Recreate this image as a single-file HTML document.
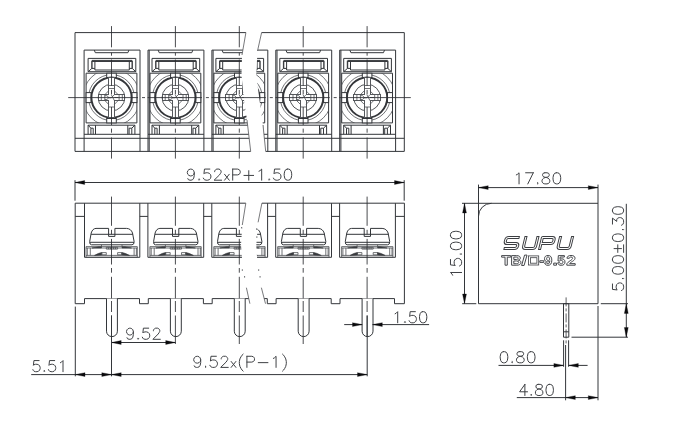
<!DOCTYPE html>
<html><head><meta charset="utf-8"><title>TB/□-9.52 drawing</title>
<style>
html,body{margin:0;padding:0;background:#fff;}
body{width:680px;height:440px;overflow:hidden;font-family:"Liberation Sans",sans-serif;}
svg{display:block}
svg path,svg circle,svg rect{fill:none;stroke:#33363a;stroke-width:1.0;stroke-linecap:butt;stroke-linejoin:miter}
svg .k{stroke-width:1.9;stroke:#34363a;fill:#fff}
svg .k2{stroke-width:1.4;stroke:#3a3c40}
svg .w{fill:#fff}
svg .wf{fill:#fff;stroke:none}
svg .t{stroke:#3e4044;stroke-width:1.0;stroke-linecap:round;stroke-linejoin:round}
svg .ar{fill:#0a0a0c;stroke:#0a0a0c;stroke-width:0.3}
svg .c{stroke-width:0.85;stroke:#2a2c30}
svg .l{stroke-width:0.8;stroke:#4c4f53}
svg .cr{shape-rendering:crispEdges;stroke:#55585c}
svg .m{stroke-width:0.85}
svg .dot{fill:#55585c;stroke:none}
svg .sp{fill:#3a3c40;stroke:#3a3c40;stroke-width:0.6}
svg .cl{stroke-dasharray:44 3 4 3;stroke-width:0.9}
svg .cv{stroke-dasharray:26 3 4 3;stroke-width:0.9}
svg .cv2{stroke-dasharray:26 3 4 3;stroke-width:0.9}
svg .cv3{stroke-dasharray:9 2 3 2;stroke-width:0.8}
svg .br{stroke-width:0.8;stroke:#55575b}
svg .lo{stroke:#3c3e42;stroke-width:3;stroke-linejoin:round;stroke-linecap:square}
svg .li{stroke:#fff;stroke-width:1;stroke-linejoin:round;stroke-linecap:square}
svg .tb{fill:#fff;stroke:#3c3e42;stroke-width:0.95;vector-effect:non-scaling-stroke;stroke-linejoin:round}
svg .tbr{stroke:#3c3e42;stroke-width:0.8}
</style></head><body>
<svg width="680" height="440" viewBox="0 0 680 440">
<defs><clipPath id="hc"><rect x="-25.4" y="73.2" width="50.8" height="49.7"/></clipPath></defs>
<title>TB/□-9.52 terminal block dimensional drawing</title>
<desc>Top view, front view and side view of a 9.52 mm pitch barrier terminal block. Dimensions: 9.52xP+1.50, 9.52, 5.51, 9.52x(P-1), 1.50, 17.80, 15.00, 5.00±0.30, 0.80, 4.80. Marking: SUPU TB/□-9.52</desc>
<rect class="wf" x="0" y="0" width="680" height="440"/>
<g id="top">
<path d="M75.00 32.60 L404.30 32.60 L404.30 151.40 L75.00 151.40 Z"/>
<path d="M75.00 138.30 L404.30 138.30"/>
<g transform="translate(111.50 0)">
<path d="M-27.40 151.40 L-27.40 50.10 L28.50 50.10 L28.50 151.40"/>
<path d="M-17.20 50.10 L-16.20 52.70 L16.40 52.70 L17.40 50.10"/>
<path d="M-23.40 58.40 L24.30 58.40 L24.30 71.70 L-23.40 71.70 Z"/>
<path class="k2" d="M-19.60 68.40 L-19.60 61.40 L20.70 61.40 L20.70 68.40"/>
<path d="M-19.60 60.40 L20.70 60.40"/>
<path d="M-16.60 61.40 L-16.60 70.00 L17.80 70.00 L17.80 61.40"/>
<path d="M-23.40 71.70 L-19.60 68.40"/>
<path d="M24.30 71.70 L20.70 68.40"/>
<path d="M-19.60 68.40 L-16.60 68.40"/>
<path d="M20.70 68.40 L17.80 68.40"/>
<path d="M-25.40 73.20 L25.40 73.20 L25.40 122.90 L-25.40 122.90 Z"/>
<g clip-path="url(#hc)">
<circle class="l" cx="0" cy="97.6" r="28.6"/>
<circle class="l" cx="0" cy="97.6" r="23.0"/>
</g>
<rect class="w" x="-25.4" y="92.6" width="5" height="10"/>
<rect class="w" x="20.4" y="92.6" width="5" height="10"/>
<rect class="w" x="-4.8" y="73.2" width="9.6" height="4.4"/>
<rect class="w" x="-4.8" y="118.5" width="9.6" height="4.4"/>
<circle class="k" cx="0" cy="97.6" r="20.1"/>
<circle class="m" cx="0" cy="97.6" r="13.3"/>
<path class="w cr" d="M-2.90 77.60 L2.90 77.60 L2.90 94.70 L13.40 94.70 L13.40 100.50 L2.90 100.50 L2.90 117.60 L-2.90 117.60 L-2.90 100.50 L-13.40 100.50 L-13.40 94.70 L-2.90 94.70 Z"/>
<path class="l" d="M6.70 100.50 L2.90 104.30"/>
<path class="l" d="M6.70 94.70 L2.90 90.90"/>
<path class="l" d="M-6.70 100.50 L-2.90 104.30"/>
<path class="l" d="M-6.70 94.70 L-2.90 90.90"/>
<path class="l" d="M-2.90 85.50 L2.90 85.50"/>
<path class="l" d="M-2.90 88.50 L2.90 88.50"/>
<path class="l" d="M-2.90 107.00 L2.90 107.00"/>
<path class="l" d="M-10.20 94.70 L-10.20 100.50"/>
<path class="l" d="M-6.70 94.70 L-6.70 100.50"/>
<path class="l" d="M7.60 94.70 L7.60 100.50"/>
<path class="l" d="M10.80 94.70 L10.80 100.50"/>
<path class="l" d="M-6.70 95.70 L-4.60 95.70 L-2.60 97.60 L-4.60 99.50 L-6.70 99.50"/>
<path class="l" d="M-2.90 97.80 L-0.20 97.80"/>
<path class="l" d="M-0.20 94.70 L3.00 100.80"/>
<path class="l" d="M-0.20 97.80 L2.90 94.70"/>
<path class="l" d="M6.90 97.50 L2.90 97.50"/>
<path d="M-23.40 134.30 L-23.40 125.20 L23.40 125.20 L23.40 134.30"/>
<path d="M-20.60 134.30 L-20.60 128.20"/>
<path d="M-18.30 134.30 L-18.30 128.20"/>
<path d="M20.30 134.30 L20.30 128.20"/>
<path d="M17.60 134.30 L17.60 128.20"/>
<path d="M-23.40 125.20 L-20.60 128.20"/>
<path d="M23.40 125.20 L20.30 128.20"/>
<path d="M-20.60 128.20 L-18.30 128.20"/>
<path d="M20.30 128.20 L17.60 128.20"/>
<path d="M-16.00 134.30 L-16.00 125.20"/>
<path d="M16.30 134.30 L16.30 125.20"/>
<path d="M-27.40 134.30 L28.50 134.30"/>
</g>
<g transform="translate(175.40 0)">
<path d="M-27.40 151.40 L-27.40 50.10 L28.50 50.10 L28.50 151.40"/>
<path d="M-26.20 50.10 L-26.20 151.40"/>
<path d="M-17.20 50.10 L-16.20 52.70 L16.40 52.70 L17.40 50.10"/>
<path d="M-23.40 58.40 L24.30 58.40 L24.30 71.70 L-23.40 71.70 Z"/>
<path class="k2" d="M-19.60 68.40 L-19.60 61.40 L20.70 61.40 L20.70 68.40"/>
<path d="M-19.60 60.40 L20.70 60.40"/>
<path d="M-16.60 61.40 L-16.60 70.00 L17.80 70.00 L17.80 61.40"/>
<path d="M-23.40 71.70 L-19.60 68.40"/>
<path d="M24.30 71.70 L20.70 68.40"/>
<path d="M-19.60 68.40 L-16.60 68.40"/>
<path d="M20.70 68.40 L17.80 68.40"/>
<path d="M-25.40 73.20 L25.40 73.20 L25.40 122.90 L-25.40 122.90 Z"/>
<g clip-path="url(#hc)">
<circle class="l" cx="0" cy="97.6" r="28.6"/>
<circle class="l" cx="0" cy="97.6" r="23.0"/>
</g>
<rect class="w" x="-25.4" y="92.6" width="5" height="10"/>
<rect class="w" x="20.4" y="92.6" width="5" height="10"/>
<rect class="w" x="-4.8" y="73.2" width="9.6" height="4.4"/>
<rect class="w" x="-4.8" y="118.5" width="9.6" height="4.4"/>
<circle class="k" cx="0" cy="97.6" r="20.1"/>
<circle class="m" cx="0" cy="97.6" r="13.3"/>
<path class="w cr" d="M-2.90 77.60 L2.90 77.60 L2.90 94.70 L13.40 94.70 L13.40 100.50 L2.90 100.50 L2.90 117.60 L-2.90 117.60 L-2.90 100.50 L-13.40 100.50 L-13.40 94.70 L-2.90 94.70 Z"/>
<path class="l" d="M6.70 100.50 L2.90 104.30"/>
<path class="l" d="M6.70 94.70 L2.90 90.90"/>
<path class="l" d="M-6.70 100.50 L-2.90 104.30"/>
<path class="l" d="M-6.70 94.70 L-2.90 90.90"/>
<path class="l" d="M-2.90 85.50 L2.90 85.50"/>
<path class="l" d="M-2.90 88.50 L2.90 88.50"/>
<path class="l" d="M-2.90 107.00 L2.90 107.00"/>
<path class="l" d="M-10.20 94.70 L-10.20 100.50"/>
<path class="l" d="M-6.70 94.70 L-6.70 100.50"/>
<path class="l" d="M7.60 94.70 L7.60 100.50"/>
<path class="l" d="M10.80 94.70 L10.80 100.50"/>
<path class="l" d="M-6.70 95.70 L-4.60 95.70 L-2.60 97.60 L-4.60 99.50 L-6.70 99.50"/>
<path class="l" d="M-2.90 97.80 L-0.20 97.80"/>
<path class="l" d="M-0.20 94.70 L3.00 100.80"/>
<path class="l" d="M-0.20 97.80 L2.90 94.70"/>
<path class="l" d="M6.90 97.50 L2.90 97.50"/>
<path d="M-23.40 134.30 L-23.40 125.20 L23.40 125.20 L23.40 134.30"/>
<path d="M-20.60 134.30 L-20.60 128.20"/>
<path d="M-18.30 134.30 L-18.30 128.20"/>
<path d="M20.30 134.30 L20.30 128.20"/>
<path d="M17.60 134.30 L17.60 128.20"/>
<path d="M-23.40 125.20 L-20.60 128.20"/>
<path d="M23.40 125.20 L20.30 128.20"/>
<path d="M-20.60 128.20 L-18.30 128.20"/>
<path d="M20.30 128.20 L17.60 128.20"/>
<path d="M-16.00 134.30 L-16.00 125.20"/>
<path d="M16.30 134.30 L16.30 125.20"/>
<path d="M-27.40 134.30 L28.50 134.30"/>
</g>
<g transform="translate(239.30 0)">
<path d="M-27.40 151.40 L-27.40 50.10 L28.50 50.10 L28.50 151.40"/>
<path d="M-26.20 50.10 L-26.20 151.40"/>
<path d="M-17.20 50.10 L-16.20 52.70 L16.40 52.70 L17.40 50.10"/>
<path d="M-23.40 58.40 L24.30 58.40 L24.30 71.70 L-23.40 71.70 Z"/>
<path class="k2" d="M-19.60 68.40 L-19.60 61.40 L20.70 61.40 L20.70 68.40"/>
<path d="M-19.60 60.40 L20.70 60.40"/>
<path d="M-16.60 61.40 L-16.60 70.00 L17.80 70.00 L17.80 61.40"/>
<path d="M-23.40 71.70 L-19.60 68.40"/>
<path d="M24.30 71.70 L20.70 68.40"/>
<path d="M-19.60 68.40 L-16.60 68.40"/>
<path d="M20.70 68.40 L17.80 68.40"/>
<path d="M-25.40 73.20 L25.40 73.20 L25.40 122.90 L-25.40 122.90 Z"/>
<g clip-path="url(#hc)">
<circle class="l" cx="0" cy="97.6" r="28.6"/>
<circle class="l" cx="0" cy="97.6" r="23.0"/>
</g>
<rect class="w" x="-25.4" y="92.6" width="5" height="10"/>
<rect class="w" x="20.4" y="92.6" width="5" height="10"/>
<rect class="w" x="-4.8" y="73.2" width="9.6" height="4.4"/>
<rect class="w" x="-4.8" y="118.5" width="9.6" height="4.4"/>
<circle class="k" cx="0" cy="97.6" r="20.1"/>
<circle class="m" cx="0" cy="97.6" r="13.3"/>
<path class="w cr" d="M-2.90 77.60 L2.90 77.60 L2.90 94.70 L13.40 94.70 L13.40 100.50 L2.90 100.50 L2.90 117.60 L-2.90 117.60 L-2.90 100.50 L-13.40 100.50 L-13.40 94.70 L-2.90 94.70 Z"/>
<path class="l" d="M6.70 100.50 L2.90 104.30"/>
<path class="l" d="M6.70 94.70 L2.90 90.90"/>
<path class="l" d="M-6.70 100.50 L-2.90 104.30"/>
<path class="l" d="M-6.70 94.70 L-2.90 90.90"/>
<path class="l" d="M-2.90 85.50 L2.90 85.50"/>
<path class="l" d="M-2.90 88.50 L2.90 88.50"/>
<path class="l" d="M-2.90 107.00 L2.90 107.00"/>
<path class="l" d="M-10.20 94.70 L-10.20 100.50"/>
<path class="l" d="M-6.70 94.70 L-6.70 100.50"/>
<path class="l" d="M7.60 94.70 L7.60 100.50"/>
<path class="l" d="M10.80 94.70 L10.80 100.50"/>
<path class="l" d="M-6.70 95.70 L-4.60 95.70 L-2.60 97.60 L-4.60 99.50 L-6.70 99.50"/>
<path class="l" d="M-2.90 97.80 L-0.20 97.80"/>
<path class="l" d="M-0.20 94.70 L3.00 100.80"/>
<path class="l" d="M-0.20 97.80 L2.90 94.70"/>
<path class="l" d="M6.90 97.50 L2.90 97.50"/>
<path d="M-23.40 134.30 L-23.40 125.20 L23.40 125.20 L23.40 134.30"/>
<path d="M-20.60 134.30 L-20.60 128.20"/>
<path d="M-18.30 134.30 L-18.30 128.20"/>
<path d="M20.30 134.30 L20.30 128.20"/>
<path d="M17.60 134.30 L17.60 128.20"/>
<path d="M-23.40 125.20 L-20.60 128.20"/>
<path d="M23.40 125.20 L20.30 128.20"/>
<path d="M-20.60 128.20 L-18.30 128.20"/>
<path d="M20.30 128.20 L17.60 128.20"/>
<path d="M-16.00 134.30 L-16.00 125.20"/>
<path d="M16.30 134.30 L16.30 125.20"/>
<path d="M-27.40 134.30 L28.50 134.30"/>
</g>
<g transform="translate(303.20 0)">
<path d="M-27.40 151.40 L-27.40 50.10 L28.50 50.10 L28.50 151.40"/>
<path d="M-26.20 50.10 L-26.20 151.40"/>
<path d="M-17.20 50.10 L-16.20 52.70 L16.40 52.70 L17.40 50.10"/>
<path d="M-23.40 58.40 L24.30 58.40 L24.30 71.70 L-23.40 71.70 Z"/>
<path class="k2" d="M-19.60 68.40 L-19.60 61.40 L20.70 61.40 L20.70 68.40"/>
<path d="M-19.60 60.40 L20.70 60.40"/>
<path d="M-16.60 61.40 L-16.60 70.00 L17.80 70.00 L17.80 61.40"/>
<path d="M-23.40 71.70 L-19.60 68.40"/>
<path d="M24.30 71.70 L20.70 68.40"/>
<path d="M-19.60 68.40 L-16.60 68.40"/>
<path d="M20.70 68.40 L17.80 68.40"/>
<path d="M-25.40 73.20 L25.40 73.20 L25.40 122.90 L-25.40 122.90 Z"/>
<g clip-path="url(#hc)">
<circle class="l" cx="0" cy="97.6" r="28.6"/>
<circle class="l" cx="0" cy="97.6" r="23.0"/>
</g>
<rect class="w" x="-25.4" y="92.6" width="5" height="10"/>
<rect class="w" x="20.4" y="92.6" width="5" height="10"/>
<rect class="w" x="-4.8" y="73.2" width="9.6" height="4.4"/>
<rect class="w" x="-4.8" y="118.5" width="9.6" height="4.4"/>
<circle class="k" cx="0" cy="97.6" r="20.1"/>
<circle class="m" cx="0" cy="97.6" r="13.3"/>
<path class="w cr" d="M-2.90 77.60 L2.90 77.60 L2.90 94.70 L13.40 94.70 L13.40 100.50 L2.90 100.50 L2.90 117.60 L-2.90 117.60 L-2.90 100.50 L-13.40 100.50 L-13.40 94.70 L-2.90 94.70 Z"/>
<path class="l" d="M6.70 100.50 L2.90 104.30"/>
<path class="l" d="M6.70 94.70 L2.90 90.90"/>
<path class="l" d="M-6.70 100.50 L-2.90 104.30"/>
<path class="l" d="M-6.70 94.70 L-2.90 90.90"/>
<path class="l" d="M-2.90 85.50 L2.90 85.50"/>
<path class="l" d="M-2.90 88.50 L2.90 88.50"/>
<path class="l" d="M-2.90 107.00 L2.90 107.00"/>
<path class="l" d="M-10.20 94.70 L-10.20 100.50"/>
<path class="l" d="M-6.70 94.70 L-6.70 100.50"/>
<path class="l" d="M7.60 94.70 L7.60 100.50"/>
<path class="l" d="M10.80 94.70 L10.80 100.50"/>
<path class="l" d="M-6.70 95.70 L-4.60 95.70 L-2.60 97.60 L-4.60 99.50 L-6.70 99.50"/>
<path class="l" d="M-2.90 97.80 L-0.20 97.80"/>
<path class="l" d="M-0.20 94.70 L3.00 100.80"/>
<path class="l" d="M-0.20 97.80 L2.90 94.70"/>
<path class="l" d="M6.90 97.50 L2.90 97.50"/>
<path d="M-23.40 134.30 L-23.40 125.20 L23.40 125.20 L23.40 134.30"/>
<path d="M-20.60 134.30 L-20.60 128.20"/>
<path d="M-18.30 134.30 L-18.30 128.20"/>
<path d="M20.30 134.30 L20.30 128.20"/>
<path d="M17.60 134.30 L17.60 128.20"/>
<path d="M-23.40 125.20 L-20.60 128.20"/>
<path d="M23.40 125.20 L20.30 128.20"/>
<path d="M-20.60 128.20 L-18.30 128.20"/>
<path d="M20.30 128.20 L17.60 128.20"/>
<path d="M-16.00 134.30 L-16.00 125.20"/>
<path d="M16.30 134.30 L16.30 125.20"/>
<path d="M-27.40 134.30 L28.50 134.30"/>
</g>
<g transform="translate(367.10 0)">
<path d="M-27.40 151.40 L-27.40 50.10 L28.50 50.10 L28.50 151.40"/>
<path d="M-26.20 50.10 L-26.20 151.40"/>
<path d="M-17.20 50.10 L-16.20 52.70 L16.40 52.70 L17.40 50.10"/>
<path d="M-23.40 58.40 L24.30 58.40 L24.30 71.70 L-23.40 71.70 Z"/>
<path class="k2" d="M-19.60 68.40 L-19.60 61.40 L20.70 61.40 L20.70 68.40"/>
<path d="M-19.60 60.40 L20.70 60.40"/>
<path d="M-16.60 61.40 L-16.60 70.00 L17.80 70.00 L17.80 61.40"/>
<path d="M-23.40 71.70 L-19.60 68.40"/>
<path d="M24.30 71.70 L20.70 68.40"/>
<path d="M-19.60 68.40 L-16.60 68.40"/>
<path d="M20.70 68.40 L17.80 68.40"/>
<path d="M-25.40 73.20 L25.40 73.20 L25.40 122.90 L-25.40 122.90 Z"/>
<g clip-path="url(#hc)">
<circle class="l" cx="0" cy="97.6" r="28.6"/>
<circle class="l" cx="0" cy="97.6" r="23.0"/>
</g>
<rect class="w" x="-25.4" y="92.6" width="5" height="10"/>
<rect class="w" x="20.4" y="92.6" width="5" height="10"/>
<rect class="w" x="-4.8" y="73.2" width="9.6" height="4.4"/>
<rect class="w" x="-4.8" y="118.5" width="9.6" height="4.4"/>
<circle class="k" cx="0" cy="97.6" r="20.1"/>
<circle class="m" cx="0" cy="97.6" r="13.3"/>
<path class="w cr" d="M-2.90 77.60 L2.90 77.60 L2.90 94.70 L13.40 94.70 L13.40 100.50 L2.90 100.50 L2.90 117.60 L-2.90 117.60 L-2.90 100.50 L-13.40 100.50 L-13.40 94.70 L-2.90 94.70 Z"/>
<path class="l" d="M6.70 100.50 L2.90 104.30"/>
<path class="l" d="M6.70 94.70 L2.90 90.90"/>
<path class="l" d="M-6.70 100.50 L-2.90 104.30"/>
<path class="l" d="M-6.70 94.70 L-2.90 90.90"/>
<path class="l" d="M-2.90 85.50 L2.90 85.50"/>
<path class="l" d="M-2.90 88.50 L2.90 88.50"/>
<path class="l" d="M-2.90 107.00 L2.90 107.00"/>
<path class="l" d="M-10.20 94.70 L-10.20 100.50"/>
<path class="l" d="M-6.70 94.70 L-6.70 100.50"/>
<path class="l" d="M7.60 94.70 L7.60 100.50"/>
<path class="l" d="M10.80 94.70 L10.80 100.50"/>
<path class="l" d="M-6.70 95.70 L-4.60 95.70 L-2.60 97.60 L-4.60 99.50 L-6.70 99.50"/>
<path class="l" d="M-2.90 97.80 L-0.20 97.80"/>
<path class="l" d="M-0.20 94.70 L3.00 100.80"/>
<path class="l" d="M-0.20 97.80 L2.90 94.70"/>
<path class="l" d="M6.90 97.50 L2.90 97.50"/>
<path d="M-23.40 134.30 L-23.40 125.20 L23.40 125.20 L23.40 134.30"/>
<path d="M-20.60 134.30 L-20.60 128.20"/>
<path d="M-18.30 134.30 L-18.30 128.20"/>
<path d="M20.30 134.30 L20.30 128.20"/>
<path d="M17.60 134.30 L17.60 128.20"/>
<path d="M-23.40 125.20 L-20.60 128.20"/>
<path d="M23.40 125.20 L20.30 128.20"/>
<path d="M-20.60 128.20 L-18.30 128.20"/>
<path d="M20.30 128.20 L17.60 128.20"/>
<path d="M-16.00 134.30 L-16.00 125.20"/>
<path d="M16.30 134.30 L16.30 125.20"/>
<path d="M-27.40 134.30 L28.50 134.30"/>
</g>
<path class="wf" d="M245.90 25.00 L245.90 32.60 L242.00 55.00 L241.50 75.00 L244.00 100.00 L247.00 120.00 L250.70 151.40 L250.70 158.00 L265.70 158.00 L265.70 151.40 L263.00 125.00 L259.50 100.00 L256.20 75.00 L257.50 51.00 L261.60 32.60 L261.60 25.00 Z"/>
<path class="br" d="M245.90 32.60 L242.00 55.00"/>
<path class="br" d="M261.60 32.60 L257.50 51.00"/>
<path class="br" d="M247.00 120.00 L250.70 151.40"/>
<path class="br" d="M263.00 125.00 L265.70 151.40"/>
<path class="c" d="M68.20 97.60 H138.00 M142.00 97.60 H145.00 M147.60 97.60 H201.90 M205.90 97.60 H208.90 M211.50 97.60 H265.80 M269.80 97.60 H272.80 M275.40 97.60 H329.70 M333.70 97.60 H336.70 M339.30 97.60 H410.80"/>
<path class="c" d="M111.50 26.10 V47.30 M111.50 52.70 V55.70 M111.50 59.50 V85.90 M111.50 89.90 V94.40 M111.50 107.00 V125.00 M111.50 128.60 V132.70 M111.50 137.50 V158.60"/>
<path class="c" d="M175.40 26.10 V47.30 M175.40 52.70 V55.70 M175.40 59.50 V85.90 M175.40 89.90 V94.40 M175.40 107.00 V125.00 M175.40 128.60 V132.70 M175.40 137.50 V158.60"/>
<path class="c" d="M239.30 26.10 V47.30 M239.30 52.70 V55.70 M239.30 59.50 V85.90 M239.30 89.90 V94.40 M239.30 107.00 V125.00 M239.30 128.60 V132.70 M239.30 137.50 V158.60"/>
<path class="c" d="M303.20 26.10 V47.30 M303.20 52.70 V55.70 M303.20 59.50 V85.90 M303.20 89.90 V94.40 M303.20 107.00 V125.00 M303.20 128.60 V132.70 M303.20 137.50 V158.60"/>
<path class="c" d="M367.10 26.10 V47.30 M367.10 52.70 V55.70 M367.10 59.50 V85.90 M367.10 89.90 V94.40 M367.10 107.00 V125.00 M367.10 128.60 V132.70 M367.10 137.50 V158.60"/>
</g>
<g id="front">
<path d="M75.20 203.20 L75.20 303.70 L84.50 303.70 L84.50 298.60 L139.50 298.60 L139.50 303.70 L148.30 303.70 L148.30 298.60 L203.40 298.60 L203.40 303.70 L212.20 303.70 L212.20 298.60 L267.30 298.60 L267.30 303.70 L276.10 303.70 L276.10 298.60 L331.20 298.60 L331.20 303.70 L340.00 303.70 L340.00 298.60 L394.50 298.60 L394.50 303.70 L404.40 303.70 L404.40 203.20 Z"/>
<g transform="translate(111.50 0)">
<path d="M-27.00 203.20 L-27.00 257.30 L28.30 257.30 L28.30 203.20"/>
<path d="M-36.30 216.40 L-27.00 216.40"/>
<path d="M28.30 216.40 L36.40 216.40"/>
<path class="w" d="M-15.5 228.4 L-2.9 228.4 L-2.9 236.4 L3.4 236.4 L3.4 228.4 L15 228.4 Q19.5 228.6 21 233 L22.6 241.5 Q22.8 244.8 20.5 244.8 L-20 244.8 Q-22 244.8 -21.8 241.5 L-20.3 233 Q-19 228.6 -15.5 228.4 Z"/>
<path d="M-20.40 234.30 L21.40 234.30"/>
<path d="M-21.70 242.30 L22.60 242.30"/>
<path class="l" d="M-25.50 246.60 L25.80 246.60 L25.80 257.30 L-25.50 257.30 Z"/>
<path class="l" d="M-25.50 248.00 L25.80 248.00"/>
<path class="l" d="M-25.50 255.40 L25.80 255.40"/>
<path class="l" d="M-24.20 248.00 L-24.20 255.40"/>
<path class="l" d="M-21.20 248.00 L-21.20 255.40"/>
<path class="l" d="M22.60 248.00 L22.60 255.40"/>
<path class="l" d="M24.90 248.00 L24.90 255.40"/>
<path class="l" d="M-5.20 247.30 L6.10 247.30 L6.10 249.10 L-5.20 249.10 Z"/>
<path class="l" d="M-3.00 247.30 L-3.00 249.10"/>
<path class="l" d="M-1.00 247.30 L-1.00 249.10"/>
<path class="l" d="M2.00 247.30 L2.00 249.10"/>
<path class="l" d="M4.00 247.30 L4.00 249.10"/>
<path class="l" d="M-10.00 244.80 L-10.00 246.60"/>
<path class="l" d="M10.50 244.80 L10.50 246.60"/>
<path class="sp" d="M-19.5 248 L-13 246.8 L-10 246.8 L-10 248 Z"/>
<path class="sp" d="M20 248 L13.5 246.8 L10.5 246.8 L10.5 248 Z"/>
<path class="sp" d="M-17 255.4 Q-12 252.6 -9.8 252.6 L-9.8 254.9 Z"/>
<path class="l" d="M-9.8 252.6 L-5.2 252.6 L-5.2 254.8 L-9.8 254.8 Z"/>
<path class="sp" d="M18 255.4 Q12.6 252.6 10.4 252.6 L10.4 254.9 Z"/>
<path class="l" d="M10.4 252.6 L6.1 252.6 L6.1 254.8 L10.4 254.8 Z"/>
<path class="l" d="M-9.80 252.60 L-9.80 254.80"/>
<path class="l" d="M10.40 252.60 L10.40 254.80"/>
<path class="w" d="M-5 298.6 L-5 331.2 A5.45 5.4 0 0 0 5.9 331.2 L5.9 298.6"/>
</g>
<g transform="translate(175.40 0)">
<path d="M-27.50 203.20 L-27.50 257.30 L28.30 257.30 L28.30 203.20"/>
<path d="M28.30 216.40 L36.40 216.40"/>
<path class="w" d="M-15.5 228.4 L-2.9 228.4 L-2.9 236.4 L3.4 236.4 L3.4 228.4 L15 228.4 Q19.5 228.6 21 233 L22.6 241.5 Q22.8 244.8 20.5 244.8 L-20 244.8 Q-22 244.8 -21.8 241.5 L-20.3 233 Q-19 228.6 -15.5 228.4 Z"/>
<path d="M-20.40 234.30 L21.40 234.30"/>
<path d="M-21.70 242.30 L22.60 242.30"/>
<path class="l" d="M-25.50 246.60 L25.80 246.60 L25.80 257.30 L-25.50 257.30 Z"/>
<path class="l" d="M-25.50 248.00 L25.80 248.00"/>
<path class="l" d="M-25.50 255.40 L25.80 255.40"/>
<path class="l" d="M-24.20 248.00 L-24.20 255.40"/>
<path class="l" d="M-21.20 248.00 L-21.20 255.40"/>
<path class="l" d="M22.60 248.00 L22.60 255.40"/>
<path class="l" d="M24.90 248.00 L24.90 255.40"/>
<path class="l" d="M-5.20 247.30 L6.10 247.30 L6.10 249.10 L-5.20 249.10 Z"/>
<path class="l" d="M-3.00 247.30 L-3.00 249.10"/>
<path class="l" d="M-1.00 247.30 L-1.00 249.10"/>
<path class="l" d="M2.00 247.30 L2.00 249.10"/>
<path class="l" d="M4.00 247.30 L4.00 249.10"/>
<path class="l" d="M-10.00 244.80 L-10.00 246.60"/>
<path class="l" d="M10.50 244.80 L10.50 246.60"/>
<path class="sp" d="M-19.5 248 L-13 246.8 L-10 246.8 L-10 248 Z"/>
<path class="sp" d="M20 248 L13.5 246.8 L10.5 246.8 L10.5 248 Z"/>
<path class="sp" d="M-17 255.4 Q-12 252.6 -9.8 252.6 L-9.8 254.9 Z"/>
<path class="l" d="M-9.8 252.6 L-5.2 252.6 L-5.2 254.8 L-9.8 254.8 Z"/>
<path class="sp" d="M18 255.4 Q12.6 252.6 10.4 252.6 L10.4 254.9 Z"/>
<path class="l" d="M10.4 252.6 L6.1 252.6 L6.1 254.8 L10.4 254.8 Z"/>
<path class="l" d="M-9.80 252.60 L-9.80 254.80"/>
<path class="l" d="M10.40 252.60 L10.40 254.80"/>
<path class="w" d="M-5 298.6 L-5 331.2 A5.45 5.4 0 0 0 5.9 331.2 L5.9 298.6"/>
</g>
<g transform="translate(239.30 0)">
<path d="M-27.50 203.20 L-27.50 257.30 L28.30 257.30 L28.30 203.20"/>
<path d="M28.30 216.40 L36.40 216.40"/>
<path class="w" d="M-15.5 228.4 L-2.9 228.4 L-2.9 236.4 L3.4 236.4 L3.4 228.4 L15 228.4 Q19.5 228.6 21 233 L22.6 241.5 Q22.8 244.8 20.5 244.8 L-20 244.8 Q-22 244.8 -21.8 241.5 L-20.3 233 Q-19 228.6 -15.5 228.4 Z"/>
<path d="M-20.40 234.30 L21.40 234.30"/>
<path d="M-21.70 242.30 L22.60 242.30"/>
<path class="l" d="M-25.50 246.60 L25.80 246.60 L25.80 257.30 L-25.50 257.30 Z"/>
<path class="l" d="M-25.50 248.00 L25.80 248.00"/>
<path class="l" d="M-25.50 255.40 L25.80 255.40"/>
<path class="l" d="M-24.20 248.00 L-24.20 255.40"/>
<path class="l" d="M-21.20 248.00 L-21.20 255.40"/>
<path class="l" d="M22.60 248.00 L22.60 255.40"/>
<path class="l" d="M24.90 248.00 L24.90 255.40"/>
<path class="l" d="M-5.20 247.30 L6.10 247.30 L6.10 249.10 L-5.20 249.10 Z"/>
<path class="l" d="M-3.00 247.30 L-3.00 249.10"/>
<path class="l" d="M-1.00 247.30 L-1.00 249.10"/>
<path class="l" d="M2.00 247.30 L2.00 249.10"/>
<path class="l" d="M4.00 247.30 L4.00 249.10"/>
<path class="l" d="M-10.00 244.80 L-10.00 246.60"/>
<path class="l" d="M10.50 244.80 L10.50 246.60"/>
<path class="sp" d="M-19.5 248 L-13 246.8 L-10 246.8 L-10 248 Z"/>
<path class="sp" d="M20 248 L13.5 246.8 L10.5 246.8 L10.5 248 Z"/>
<path class="sp" d="M-17 255.4 Q-12 252.6 -9.8 252.6 L-9.8 254.9 Z"/>
<path class="l" d="M-9.8 252.6 L-5.2 252.6 L-5.2 254.8 L-9.8 254.8 Z"/>
<path class="sp" d="M18 255.4 Q12.6 252.6 10.4 252.6 L10.4 254.9 Z"/>
<path class="l" d="M10.4 252.6 L6.1 252.6 L6.1 254.8 L10.4 254.8 Z"/>
<path class="l" d="M-9.80 252.60 L-9.80 254.80"/>
<path class="l" d="M10.40 252.60 L10.40 254.80"/>
<path class="w" d="M-5 298.6 L-5 331.2 A5.45 5.4 0 0 0 5.9 331.2 L5.9 298.6"/>
</g>
<g transform="translate(303.20 0)">
<path d="M-27.50 203.20 L-27.50 257.30 L28.30 257.30 L28.30 203.20"/>
<path d="M28.30 216.40 L36.40 216.40"/>
<path class="w" d="M-15.5 228.4 L-2.9 228.4 L-2.9 236.4 L3.4 236.4 L3.4 228.4 L15 228.4 Q19.5 228.6 21 233 L22.6 241.5 Q22.8 244.8 20.5 244.8 L-20 244.8 Q-22 244.8 -21.8 241.5 L-20.3 233 Q-19 228.6 -15.5 228.4 Z"/>
<path d="M-20.40 234.30 L21.40 234.30"/>
<path d="M-21.70 242.30 L22.60 242.30"/>
<path class="l" d="M-25.50 246.60 L25.80 246.60 L25.80 257.30 L-25.50 257.30 Z"/>
<path class="l" d="M-25.50 248.00 L25.80 248.00"/>
<path class="l" d="M-25.50 255.40 L25.80 255.40"/>
<path class="l" d="M-24.20 248.00 L-24.20 255.40"/>
<path class="l" d="M-21.20 248.00 L-21.20 255.40"/>
<path class="l" d="M22.60 248.00 L22.60 255.40"/>
<path class="l" d="M24.90 248.00 L24.90 255.40"/>
<path class="l" d="M-5.20 247.30 L6.10 247.30 L6.10 249.10 L-5.20 249.10 Z"/>
<path class="l" d="M-3.00 247.30 L-3.00 249.10"/>
<path class="l" d="M-1.00 247.30 L-1.00 249.10"/>
<path class="l" d="M2.00 247.30 L2.00 249.10"/>
<path class="l" d="M4.00 247.30 L4.00 249.10"/>
<path class="l" d="M-10.00 244.80 L-10.00 246.60"/>
<path class="l" d="M10.50 244.80 L10.50 246.60"/>
<path class="sp" d="M-19.5 248 L-13 246.8 L-10 246.8 L-10 248 Z"/>
<path class="sp" d="M20 248 L13.5 246.8 L10.5 246.8 L10.5 248 Z"/>
<path class="sp" d="M-17 255.4 Q-12 252.6 -9.8 252.6 L-9.8 254.9 Z"/>
<path class="l" d="M-9.8 252.6 L-5.2 252.6 L-5.2 254.8 L-9.8 254.8 Z"/>
<path class="sp" d="M18 255.4 Q12.6 252.6 10.4 252.6 L10.4 254.9 Z"/>
<path class="l" d="M10.4 252.6 L6.1 252.6 L6.1 254.8 L10.4 254.8 Z"/>
<path class="l" d="M-9.80 252.60 L-9.80 254.80"/>
<path class="l" d="M10.40 252.60 L10.40 254.80"/>
<path class="w" d="M-5 298.6 L-5 331.2 A5.45 5.4 0 0 0 5.9 331.2 L5.9 298.6"/>
</g>
<g transform="translate(367.10 0)">
<path d="M-27.50 203.20 L-27.50 257.30 L28.30 257.30 L28.30 203.20"/>
<path d="M28.30 216.40 L37.30 216.40"/>
<path class="w" d="M-15.5 228.4 L-2.9 228.4 L-2.9 236.4 L3.4 236.4 L3.4 228.4 L15 228.4 Q19.5 228.6 21 233 L22.6 241.5 Q22.8 244.8 20.5 244.8 L-20 244.8 Q-22 244.8 -21.8 241.5 L-20.3 233 Q-19 228.6 -15.5 228.4 Z"/>
<path d="M-20.40 234.30 L21.40 234.30"/>
<path d="M-21.70 242.30 L22.60 242.30"/>
<path class="l" d="M-25.50 246.60 L25.80 246.60 L25.80 257.30 L-25.50 257.30 Z"/>
<path class="l" d="M-25.50 248.00 L25.80 248.00"/>
<path class="l" d="M-25.50 255.40 L25.80 255.40"/>
<path class="l" d="M-24.20 248.00 L-24.20 255.40"/>
<path class="l" d="M-21.20 248.00 L-21.20 255.40"/>
<path class="l" d="M22.60 248.00 L22.60 255.40"/>
<path class="l" d="M24.90 248.00 L24.90 255.40"/>
<path class="l" d="M-5.20 247.30 L6.10 247.30 L6.10 249.10 L-5.20 249.10 Z"/>
<path class="l" d="M-3.00 247.30 L-3.00 249.10"/>
<path class="l" d="M-1.00 247.30 L-1.00 249.10"/>
<path class="l" d="M2.00 247.30 L2.00 249.10"/>
<path class="l" d="M4.00 247.30 L4.00 249.10"/>
<path class="l" d="M-10.00 244.80 L-10.00 246.60"/>
<path class="l" d="M10.50 244.80 L10.50 246.60"/>
<path class="sp" d="M-19.5 248 L-13 246.8 L-10 246.8 L-10 248 Z"/>
<path class="sp" d="M20 248 L13.5 246.8 L10.5 246.8 L10.5 248 Z"/>
<path class="sp" d="M-17 255.4 Q-12 252.6 -9.8 252.6 L-9.8 254.9 Z"/>
<path class="l" d="M-9.8 252.6 L-5.2 252.6 L-5.2 254.8 L-9.8 254.8 Z"/>
<path class="sp" d="M18 255.4 Q12.6 252.6 10.4 252.6 L10.4 254.9 Z"/>
<path class="l" d="M10.4 252.6 L6.1 252.6 L6.1 254.8 L10.4 254.8 Z"/>
<path class="l" d="M-9.80 252.60 L-9.80 254.80"/>
<path class="l" d="M10.40 252.60 L10.40 254.80"/>
<path class="w" d="M-5 298.6 L-5 331.2 A5.45 5.4 0 0 0 5.9 331.2 L5.9 298.6"/>
</g>
<path class="wf" d="M245.80 196.00 L245.80 203.20 L242.30 225.00 L241.00 245.00 L242.50 265.00 L246.40 287.70 L249.90 303.70 L249.90 345.00 L265.50 345.00 L265.50 303.70 L261.40 287.70 L257.50 265.00 L256.30 245.00 L258.10 222.30 L261.90 203.20 L261.90 196.00 Z"/>
<path class="br" d="M245.80 203.20 L242.30 225.00"/>
<path class="br" d="M261.90 203.20 L258.10 222.30"/>
<path class="br" d="M246.40 287.70 L249.90 303.70"/>
<path class="br" d="M261.40 287.70 L265.50 303.70"/>
<rect class="dot" x="241.8" y="269.4" width="1.1" height="1.3"/>
<rect class="dot" x="244.0" y="276.2" width="1.1" height="1.3"/>
<rect class="dot" x="258.1" y="269.4" width="1.1" height="1.3"/>
<rect class="dot" x="259.5" y="276.2" width="1.1" height="1.3"/>
<rect class="dot" x="241.1" y="227.1" width="1.1" height="1.3"/>
<rect class="dot" x="256.1" y="228.4" width="1.1" height="1.3"/>
<rect class="dot" x="256.3" y="236.4" width="1.1" height="1.3"/>
<path class="c" d="M111.50 196.60 V225.80 M111.50 229.80 V234.30 M111.50 238.90 V264.50 M111.50 268.00 V272.70 M111.50 276.80 V298.40 M111.50 301.00 V312.00 M111.50 315.50 V337.00"/>
<path class="c" d="M175.40 196.60 V225.80 M175.40 229.80 V234.30 M175.40 238.90 V264.50 M175.40 268.00 V272.70 M175.40 276.80 V298.40 M175.40 301.00 V312.00 M175.40 315.50 V344.00"/>
<path class="c" d="M239.30 196.60 V225.80 M239.30 229.80 V234.30 M239.30 238.90 V264.50 M239.30 268.00 V272.70 M239.30 276.80 V298.40 M239.30 301.00 V312.00 M239.30 315.50 V344.00"/>
<path class="c" d="M303.20 196.60 V225.80 M303.20 229.80 V234.30 M303.20 238.90 V264.50 M303.20 268.00 V272.70 M303.20 276.80 V298.40 M303.20 301.00 V312.00 M303.20 315.50 V344.00"/>
<path class="c" d="M367.10 196.60 V225.80 M367.10 229.80 V234.30 M367.10 238.90 V264.50 M367.10 268.00 V272.70 M367.10 276.80 V298.40 M367.10 301.00 V312.00 M367.10 315.50 V337.00"/>
</g>
<g id="fdim">
<path d="M75.00 180.20 L75.00 200.70"/>
<path d="M404.20 180.20 L404.20 200.70"/>
<path d="M75.00 182.50 L404.20 182.50"/>
<path class="ar" d="M75.00 182.50 L84.70 180.55 L84.70 184.45 Z"/>
<path class="ar" d="M404.20 182.50 L394.50 184.45 L394.50 180.55 Z"/>
<path class="t" transform="translate(185.69 180.20)" d="M8.58 -7.42 L8.05 -5.83 L6.97 -4.77 L5.36 -4.24 L4.83 -4.24 L3.22 -4.77 L2.15 -5.83 L1.61 -7.42 L1.61 -7.95 L2.15 -9.54 L3.22 -10.60 L4.83 -11.13 L5.36 -11.13 L6.97 -10.60 L8.05 -9.54 L8.58 -7.42 L8.58 -4.77 L8.05 -2.12 L6.97 -0.53 L5.36 0.00 L4.29 0.00 L2.68 -0.53 L2.15 -1.59 M13.41 -1.06 L12.88 -0.53 L13.41 0.00 L13.95 -0.53 L13.41 -1.06 M24.14 -11.13 L18.78 -11.13 L18.24 -6.36 L18.78 -6.89 L20.39 -7.42 L22.00 -7.42 L23.61 -6.89 L24.68 -5.83 L25.21 -4.24 L25.21 -3.18 L24.68 -1.59 L23.61 -0.53 L22.00 0.00 L20.39 0.00 L18.78 -0.53 L18.24 -1.06 L17.70 -2.12 M28.97 -8.48 L28.97 -9.01 L29.51 -10.07 L30.04 -10.60 L31.12 -11.13 L33.26 -11.13 L34.34 -10.60 L34.87 -10.07 L35.41 -9.01 L35.41 -7.95 L34.87 -6.89 L33.80 -5.30 L28.43 0.00 L35.94 0.00 M38.84 -5.94 L43.56 0.00 M43.56 -5.94 L38.84 0.00 M47.00 -11.13 L47.00 0.00 M47.00 -11.13 L51.82 -11.13 L53.43 -10.60 L53.97 -10.07 L54.51 -9.01 L54.51 -7.42 L53.97 -6.36 L53.43 -5.83 L51.82 -5.30 L47.00 -5.30 M63.09 -9.54 L63.09 0.00 M58.26 -4.77 L67.92 -4.77 M73.28 -9.01 L74.36 -9.54 L75.97 -11.13 L75.97 0.00 M83.48 -1.06 L82.94 -0.53 L83.48 0.00 L84.01 -0.53 L83.48 -1.06 M94.21 -11.13 L88.84 -11.13 L88.31 -6.36 L88.84 -6.89 L90.45 -7.42 L92.06 -7.42 L93.67 -6.89 L94.74 -5.83 L95.28 -4.24 L95.28 -3.18 L94.74 -1.59 L93.67 -0.53 L92.06 0.00 L90.45 0.00 L88.84 -0.53 L88.31 -1.06 L87.77 -2.12 M101.72 -11.13 L100.11 -10.60 L99.04 -9.01 L98.50 -6.36 L98.50 -4.77 L99.04 -2.12 L100.11 -0.53 L101.72 0.00 L102.79 0.00 L104.40 -0.53 L105.47 -2.12 L106.01 -4.77 L106.01 -6.36 L105.47 -9.01 L104.40 -10.60 L102.79 -11.13 L101.72 -11.13"/>
<path d="M111.50 342.50 L175.40 342.50"/>
<path class="ar" d="M111.50 342.50 L121.20 340.55 L121.20 344.45 Z"/>
<path class="ar" d="M175.40 342.50 L165.70 344.45 L165.70 340.55 Z"/>
<path class="t" transform="translate(124.92 339.30)" d="M8.45 -7.42 L7.92 -5.83 L6.87 -4.77 L5.28 -4.24 L4.75 -4.24 L3.17 -4.77 L2.11 -5.83 L1.58 -7.42 L1.58 -7.95 L2.11 -9.54 L3.17 -10.60 L4.75 -11.13 L5.28 -11.13 L6.87 -10.60 L7.92 -9.54 L8.45 -7.42 L8.45 -4.77 L7.92 -2.12 L6.87 -0.53 L5.28 0.00 L4.23 0.00 L2.64 -0.53 L2.11 -1.59 M13.20 -1.06 L12.68 -0.53 L13.20 0.00 L13.73 -0.53 L13.20 -1.06 M23.77 -11.13 L18.48 -11.13 L17.96 -6.36 L18.48 -6.89 L20.07 -7.42 L21.65 -7.42 L23.24 -6.89 L24.29 -5.83 L24.82 -4.24 L24.82 -3.18 L24.29 -1.59 L23.24 -0.53 L21.65 0.00 L20.07 0.00 L18.48 -0.53 L17.96 -1.06 L17.43 -2.12 M28.52 -8.48 L28.52 -9.01 L29.05 -10.07 L29.58 -10.60 L30.63 -11.13 L32.74 -11.13 L33.80 -10.60 L34.33 -10.07 L34.86 -9.01 L34.86 -7.95 L34.33 -6.89 L33.27 -5.30 L27.99 0.00 L35.38 0.00"/>
<path d="M75.30 306.60 L75.30 376.30"/>
<path d="M111.50 315.50 L111.50 376.30"/>
<path d="M367.20 315.50 L367.20 376.30"/>
<path d="M31.20 374.60 L367.20 374.60"/>
<path class="ar" d="M75.30 374.60 L85.00 372.65 L85.00 376.55 Z"/>
<path class="ar" d="M111.50 374.60 L101.80 376.55 L101.80 372.65 Z"/>
<path class="ar" d="M111.50 374.60 L121.20 372.65 L121.20 376.55 Z"/>
<path class="ar" d="M367.20 374.60 L357.50 376.55 L357.50 372.65 Z"/>
<path class="t" transform="translate(31.34 371.70)" d="M7.78 -11.13 L2.59 -11.13 L2.08 -6.36 L2.59 -6.89 L4.15 -7.42 L5.71 -7.42 L7.27 -6.89 L8.30 -5.83 L8.82 -4.24 L8.82 -3.18 L8.30 -1.59 L7.27 -0.53 L5.71 0.00 L4.15 0.00 L2.59 -0.53 L2.08 -1.06 L1.56 -2.12 M12.97 -1.06 L12.46 -0.53 L12.97 0.00 L13.49 -0.53 L12.97 -1.06 M23.35 -11.13 L18.16 -11.13 L17.64 -6.36 L18.16 -6.89 L19.72 -7.42 L21.28 -7.42 L22.83 -6.89 L23.87 -5.83 L24.39 -4.24 L24.39 -3.18 L23.87 -1.59 L22.83 -0.53 L21.28 0.00 L19.72 0.00 L18.16 -0.53 L17.64 -1.06 L17.13 -2.12 M29.06 -9.01 L30.10 -9.54 L31.66 -11.13 L31.66 0.00"/>
<path class="t" transform="translate(192.08 367.40)" d="M8.63 -7.42 L8.09 -5.83 L7.02 -4.77 L5.40 -4.24 L4.86 -4.24 L3.24 -4.77 L2.16 -5.83 L1.62 -7.42 L1.62 -7.95 L2.16 -9.54 L3.24 -10.60 L4.86 -11.13 L5.40 -11.13 L7.02 -10.60 L8.09 -9.54 L8.63 -7.42 L8.63 -4.77 L8.09 -2.12 L7.02 -0.53 L5.40 0.00 L4.32 0.00 L2.70 -0.53 L2.16 -1.59 M13.49 -1.06 L12.95 -0.53 L13.49 0.00 L14.03 -0.53 L13.49 -1.06 M24.28 -11.13 L18.89 -11.13 L18.35 -6.36 L18.89 -6.89 L20.51 -7.42 L22.12 -7.42 L23.74 -6.89 L24.82 -5.83 L25.36 -4.24 L25.36 -3.18 L24.82 -1.59 L23.74 -0.53 L22.12 0.00 L20.51 0.00 L18.89 -0.53 L18.35 -1.06 L17.81 -2.12 M29.14 -8.48 L29.14 -9.01 L29.68 -10.07 L30.22 -10.60 L31.30 -11.13 L33.46 -11.13 L34.54 -10.60 L35.08 -10.07 L35.62 -9.01 L35.62 -7.95 L35.08 -6.89 L34.00 -5.30 L28.60 0.00 L36.16 0.00 M39.07 -5.94 L43.82 0.00 M43.82 -5.94 L39.07 0.00 M51.05 -13.25 L49.97 -12.19 L48.89 -10.60 L47.81 -8.48 L47.27 -5.83 L47.27 -3.71 L47.81 -1.06 L48.89 1.06 L49.97 2.65 L51.05 3.71 M54.83 -11.13 L54.83 0.00 M54.83 -11.13 L59.68 -11.13 L61.30 -10.60 L61.84 -10.07 L62.38 -9.01 L62.38 -7.42 L61.84 -6.36 L61.30 -5.83 L59.68 -5.30 L54.83 -5.30 M66.16 -4.77 L75.87 -4.77 M81.27 -9.01 L82.35 -9.54 L83.97 -11.13 L83.97 0.00 M90.44 -13.25 L91.52 -12.19 L92.60 -10.60 L93.68 -8.48 L94.22 -5.83 L94.22 -3.71 L93.68 -1.06 L92.60 1.06 L91.52 2.65 L90.44 3.71"/>
<path d="M344.20 324.60 L362.20 324.60"/>
<path d="M372.60 324.60 L429.10 324.60"/>
<path class="ar" d="M362.20 324.60 L352.50 326.55 L352.50 322.65 Z"/>
<path class="ar" d="M372.60 324.60 L382.30 322.65 L382.30 326.55 Z"/>
<path class="t" transform="translate(391.98 322.80)" d="M3.12 -9.01 L4.16 -9.54 L5.72 -11.13 L5.72 0.00 M12.99 -1.06 L12.47 -0.53 L12.99 0.00 L13.51 -0.53 L12.99 -1.06 M23.39 -11.13 L18.19 -11.13 L17.67 -6.36 L18.19 -6.89 L19.75 -7.42 L21.31 -7.42 L22.87 -6.89 L23.90 -5.83 L24.42 -4.24 L24.42 -3.18 L23.90 -1.59 L22.87 -0.53 L21.31 0.00 L19.75 0.00 L18.19 -0.53 L17.67 -1.06 L17.15 -2.12 M30.66 -11.13 L29.10 -10.60 L28.06 -9.01 L27.54 -6.36 L27.54 -4.77 L28.06 -2.12 L29.10 -0.53 L30.66 0.00 L31.70 0.00 L33.26 -0.53 L34.30 -2.12 L34.82 -4.77 L34.82 -6.36 L34.30 -9.01 L33.26 -10.60 L31.70 -11.13 L30.66 -11.13"/>
</g>
<g id="side">
<path d="M478.50 184.60 L478.50 303.70 L598.00 303.70 L598.00 184.60"/>
<path d="M462.00 203.30 L598.00 203.30"/>
<path d="M478.5 216.3 A13 13 0 0 1 491.5 203.3"/>
<path d="M563.50 303.70 L568.80 303.70 L568.80 337.20 L563.50 337.20 Z"/>
<path d="M563.50 331.80 L568.80 331.80"/>
<path class="cv3" d="M566.10 297.40 L566.10 345.00"/>
<path d="M478.50 187.60 L598.00 187.60"/>
<path class="ar" d="M478.50 187.60 L488.20 185.65 L488.20 189.55 Z"/>
<path class="ar" d="M598.00 187.60 L588.30 189.55 L588.30 185.65 Z"/>
<path class="t" transform="translate(513.01 183.90)" d="M3.29 -9.01 L4.39 -9.54 L6.03 -11.13 L6.03 0.00 M20.28 -11.13 L14.80 0.00 M12.61 -11.13 L20.28 -11.13 M24.67 -1.06 L24.12 -0.53 L24.67 0.00 L25.21 -0.53 L24.67 -1.06 M31.79 -11.13 L30.15 -10.60 L29.60 -9.54 L29.60 -8.48 L30.15 -7.42 L31.24 -6.89 L33.44 -6.36 L35.08 -5.83 L36.18 -4.77 L36.73 -3.71 L36.73 -2.12 L36.18 -1.06 L35.63 -0.53 L33.99 0.00 L31.79 0.00 L30.15 -0.53 L29.60 -1.06 L29.05 -2.12 L29.05 -3.71 L29.60 -4.77 L30.70 -5.83 L32.34 -6.36 L34.53 -6.89 L35.63 -7.42 L36.18 -8.48 L36.18 -9.54 L35.63 -10.60 L33.99 -11.13 L31.79 -11.13 M43.30 -11.13 L41.66 -10.60 L40.56 -9.01 L40.01 -6.36 L40.01 -4.77 L40.56 -2.12 L41.66 -0.53 L43.30 0.00 L44.40 0.00 L46.04 -0.53 L47.14 -2.12 L47.69 -4.77 L47.69 -6.36 L47.14 -9.01 L46.04 -10.60 L44.40 -11.13 L43.30 -11.13"/>
<path d="M464.50 203.30 L464.50 303.70"/>
<path class="ar" d="M464.50 203.30 L466.45 213.00 L462.55 213.00 Z"/>
<path class="ar" d="M464.50 303.70 L462.55 294.00 L466.45 294.00 Z"/>
<path d="M462.20 303.70 L476.30 303.70"/>
<path class="t" transform="translate(461.60 278.45) rotate(-90)" d="M3.25 -9.01 L4.34 -9.54 L5.96 -11.13 L5.96 0.00 M18.97 -11.13 L13.55 -11.13 L13.01 -6.36 L13.55 -6.89 L15.18 -7.42 L16.80 -7.42 L18.43 -6.89 L19.51 -5.83 L20.05 -4.24 L20.05 -3.18 L19.51 -1.59 L18.43 -0.53 L16.80 0.00 L15.18 0.00 L13.55 -0.53 L13.01 -1.06 L12.47 -2.12 M24.39 -1.06 L23.85 -0.53 L24.39 0.00 L24.93 -0.53 L24.39 -1.06 M31.98 -11.13 L30.35 -10.60 L29.27 -9.01 L28.72 -6.36 L28.72 -4.77 L29.27 -2.12 L30.35 -0.53 L31.98 0.00 L33.06 0.00 L34.69 -0.53 L35.77 -2.12 L36.31 -4.77 L36.31 -6.36 L35.77 -9.01 L34.69 -10.60 L33.06 -11.13 L31.98 -11.13 M42.82 -11.13 L41.19 -10.60 L40.11 -9.01 L39.56 -6.36 L39.56 -4.77 L40.11 -2.12 L41.19 -0.53 L42.82 0.00 L43.90 0.00 L45.53 -0.53 L46.61 -2.12 L47.15 -4.77 L47.15 -6.36 L46.61 -9.01 L45.53 -10.60 L43.90 -11.13 L42.82 -11.13"/>
<path d="M626.30 203.80 L626.30 337.20"/>
<path d="M600.80 303.70 L628.00 303.70"/>
<path d="M571.50 337.20 L628.00 337.20"/>
<path class="ar" d="M626.30 303.70 L628.25 313.40 L624.35 313.40 Z"/>
<path class="ar" d="M626.30 337.20 L624.35 327.50 L628.25 327.50 Z"/>
<path class="t" transform="translate(623.60 292.13) rotate(-90)" d="M8.16 -11.13 L2.72 -11.13 L2.18 -6.36 L2.72 -6.89 L4.35 -7.42 L5.99 -7.42 L7.62 -6.89 L8.71 -5.83 L9.25 -4.24 L9.25 -3.18 L8.71 -1.59 L7.62 -0.53 L5.99 0.00 L4.35 0.00 L2.72 -0.53 L2.18 -1.06 L1.63 -2.12 M13.60 -1.06 L13.06 -0.53 L13.60 0.00 L14.15 -0.53 L13.60 -1.06 M21.22 -11.13 L19.59 -10.60 L18.50 -9.01 L17.96 -6.36 L17.96 -4.77 L18.50 -2.12 L19.59 -0.53 L21.22 0.00 L22.31 0.00 L23.94 -0.53 L25.03 -2.12 L25.58 -4.77 L25.58 -6.36 L25.03 -9.01 L23.94 -10.60 L22.31 -11.13 L21.22 -11.13 M32.11 -11.13 L30.47 -10.60 L29.38 -9.01 L28.84 -6.36 L28.84 -4.77 L29.38 -2.12 L30.47 -0.53 L32.11 0.00 L33.19 0.00 L34.83 -0.53 L35.91 -2.12 L36.46 -4.77 L36.46 -6.36 L35.91 -9.01 L34.83 -10.60 L33.19 -11.13 L32.11 -11.13 M43.53 -9.54 L43.53 -2.12 M39.72 -5.83 L47.34 -5.83 M39.72 0.00 L47.34 0.00 M53.87 -11.13 L52.24 -10.60 L51.15 -9.01 L50.61 -6.36 L50.61 -4.77 L51.15 -2.12 L52.24 -0.53 L53.87 0.00 L54.96 0.00 L56.59 -0.53 L57.68 -2.12 L58.22 -4.77 L58.22 -6.36 L57.68 -9.01 L56.59 -10.60 L54.96 -11.13 L53.87 -11.13 M62.58 -1.06 L62.03 -0.53 L62.58 0.00 L63.12 -0.53 L62.58 -1.06 M68.02 -11.13 L74.01 -11.13 L70.74 -6.89 L72.37 -6.89 L73.46 -6.36 L74.01 -5.83 L74.55 -4.24 L74.55 -3.18 L74.01 -1.59 L72.92 -0.53 L71.28 0.00 L69.65 0.00 L68.02 -0.53 L67.48 -1.06 L66.93 -2.12 M81.08 -11.13 L79.45 -10.60 L78.36 -9.01 L77.81 -6.36 L77.81 -4.77 L78.36 -2.12 L79.45 -0.53 L81.08 0.00 L82.17 0.00 L83.80 -0.53 L84.89 -2.12 L85.43 -4.77 L85.43 -6.36 L84.89 -9.01 L83.80 -10.60 L82.17 -11.13 L81.08 -11.13"/>
<path d="M598.00 306.00 L598.00 400.30"/>
<path d="M563.60 340.30 L563.60 366.80"/>
<path d="M568.60 340.30 L568.60 366.80"/>
<path d="M565.60 345.00 L565.60 400.30"/>
<path d="M498.50 365.40 L563.60 365.40"/>
<path d="M568.60 365.40 L587.60 365.40"/>
<path class="ar" d="M563.60 365.40 L553.90 367.35 L553.90 363.45 Z"/>
<path class="ar" d="M568.60 365.40 L578.30 363.45 L578.30 367.35 Z"/>
<path class="t" transform="translate(498.57 362.80)" d="M4.89 -11.13 L3.26 -10.60 L2.18 -9.01 L1.63 -6.36 L1.63 -4.77 L2.18 -2.12 L3.26 -0.53 L4.89 0.00 L5.98 0.00 L7.61 -0.53 L8.70 -2.12 L9.24 -4.77 L9.24 -6.36 L8.70 -9.01 L7.61 -10.60 L5.98 -11.13 L4.89 -11.13 M13.59 -1.06 L13.05 -0.53 L13.59 0.00 L14.14 -0.53 L13.59 -1.06 M20.66 -11.13 L19.03 -10.60 L18.49 -9.54 L18.49 -8.48 L19.03 -7.42 L20.12 -6.89 L22.29 -6.36 L23.93 -5.83 L25.01 -4.77 L25.56 -3.71 L25.56 -2.12 L25.01 -1.06 L24.47 -0.53 L22.84 0.00 L20.66 0.00 L19.03 -0.53 L18.49 -1.06 L17.94 -2.12 L17.94 -3.71 L18.49 -4.77 L19.58 -5.83 L21.21 -6.36 L23.38 -6.89 L24.47 -7.42 L25.01 -8.48 L25.01 -9.54 L24.47 -10.60 L22.84 -11.13 L20.66 -11.13 M32.08 -11.13 L30.45 -10.60 L29.36 -9.01 L28.82 -6.36 L28.82 -4.77 L29.36 -2.12 L30.45 -0.53 L32.08 0.00 L33.17 0.00 L34.80 -0.53 L35.89 -2.12 L36.43 -4.77 L36.43 -6.36 L35.89 -9.01 L34.80 -10.60 L33.17 -11.13 L32.08 -11.13"/>
<path d="M516.80 397.60 L598.00 397.60"/>
<path class="ar" d="M565.60 397.60 L575.30 395.65 L575.30 399.55 Z"/>
<path class="ar" d="M598.00 397.60 L588.30 399.55 L588.30 395.65 Z"/>
<path class="t" transform="translate(518.02 395.50)" d="M6.87 -11.13 L1.58 -3.71 L9.51 -3.71 M6.87 -11.13 L6.87 0.00 M13.20 -1.06 L12.67 -0.53 L13.20 0.00 L13.73 -0.53 L13.20 -1.06 M20.07 -11.13 L18.48 -10.60 L17.96 -9.54 L17.96 -8.48 L18.48 -7.42 L19.54 -6.89 L21.65 -6.36 L23.24 -5.83 L24.29 -4.77 L24.82 -3.71 L24.82 -2.12 L24.29 -1.06 L23.77 -0.53 L22.18 0.00 L20.07 0.00 L18.48 -0.53 L17.96 -1.06 L17.43 -2.12 L17.43 -3.71 L17.96 -4.77 L19.01 -5.83 L20.60 -6.36 L22.71 -6.89 L23.77 -7.42 L24.29 -8.48 L24.29 -9.54 L23.77 -10.60 L22.18 -11.13 L20.07 -11.13 M31.16 -11.13 L29.57 -10.60 L28.52 -9.01 L27.99 -6.36 L27.99 -4.77 L28.52 -2.12 L29.57 -0.53 L31.16 0.00 L32.22 0.00 L33.80 -0.53 L34.86 -2.12 L35.38 -4.77 L35.38 -6.36 L34.86 -9.01 L33.80 -10.60 L32.22 -11.13 L31.16 -11.13"/>
</g>
<g id="logo">
<g transform="translate(503.60 248.50) skewX(-13.5)">
<path class="lo" d="M11.90 -11.00 L2.40 -11.00 Q0 -11.00 0 -8.60 L0 -7.40 Q0 -5.00 2.40 -5.00 L11.00 -5.00 Q13.40 -5.00 13.40 -2.60 L13.40 -2.40 Q13.40 0 11.00 0 L1.5 0"/><path class="li" d="M11.90 -11.00 L2.40 -11.00 Q0 -11.00 0 -8.60 L0 -7.40 Q0 -5.00 2.40 -5.00 L11.00 -5.00 Q13.40 -5.00 13.40 -2.60 L13.40 -2.40 Q13.40 0 11.00 0 L1.5 0"/>
</g>
<g transform="translate(523.10 248.50) skewX(-13.5)">
<path class="lo" d="M0 -11.00 L0 -2.40 Q0 0 2.40 0 L9.60 0 Q12.00 0 12.00 -2.40 L12.00 -11.00"/><path class="li" d="M0 -11.00 L0 -2.40 Q0 0 2.40 0 L9.60 0 Q12.00 0 12.00 -2.40 L12.00 -11.00"/>
</g>
<g transform="translate(539.80 248.50) skewX(-13.5)">
<path class="lo" d="M0 0 L0 -11.00 L9.80 -11.00 Q12.20 -11.00 12.20 -8.60 L12.20 -7.40 Q12.20 -5.00 9.80 -5.00 L0 -5.00"/><path class="li" d="M0 0 L0 -11.00 L9.80 -11.00 Q12.20 -11.00 12.20 -8.60 L12.20 -7.40 Q12.20 -5.00 9.80 -5.00 L0 -5.00"/>
</g>
<g transform="translate(557.70 248.50) skewX(-13.5)">
<path class="lo" d="M0 -11.00 L0 -2.40 Q0 0 2.40 0 L9.60 0 Q12.00 0 12.00 -2.40 L12.00 -11.00"/><path class="li" d="M0 -11.00 L0 -2.40 Q0 0 2.40 0 L9.60 0 Q12.00 0 12.00 -2.40 L12.00 -11.00"/>
</g>
<path class="tb" transform="translate(501.43 265.20) scale(0.00755 -0.00681)" d="M773 1181V0H478V1181H23V1409H1229V1181Z"/>
<path class="tb" transform="translate(510.58 265.20) scale(0.00745 -0.00681)" d="M1386 402Q1386 210 1242.0 105.0Q1098 0 842 0H137V1409H782Q1040 1409 1172.5 1319.5Q1305 1230 1305 1055Q1305 935 1238.5 852.5Q1172 770 1036 741Q1207 721 1296.5 633.5Q1386 546 1386 402ZM1008 1015Q1008 1110 947.5 1150.0Q887 1190 768 1190H432V841H770Q895 841 951.5 884.5Q1008 928 1008 1015ZM1090 425Q1090 623 806 623H432V219H817Q959 219 1024.5 270.5Q1090 322 1090 425Z"/>
<path class="tb" transform="translate(521.40 265.20) scale(0.01021 -0.00681)" d="M20 -41 311 1484H549L263 -41Z"/>
<path class="tb" transform="translate(539.18 265.20) scale(0.00769 -0.00681)" d="M80 409V653H600V409Z"/>
<path class="tb" transform="translate(543.98 265.20) scale(0.00736 -0.00681)" d="M1063 727Q1063 352 926.0 166.0Q789 -20 537 -20Q351 -20 245.5 59.5Q140 139 96 311L360 348Q399 201 540 201Q658 201 721.5 314.0Q785 427 787 649Q749 574 662.5 531.5Q576 489 476 489Q290 489 180.5 615.5Q71 742 71 958Q71 1180 199.5 1305.0Q328 1430 563 1430Q816 1430 939.5 1254.5Q1063 1079 1063 727ZM766 924Q766 1055 708.5 1132.5Q651 1210 556 1210Q463 1210 409.5 1142.5Q356 1075 356 956Q356 839 409.0 768.5Q462 698 557 698Q647 698 706.5 759.5Q766 821 766 924Z"/>
<path class="tb" transform="translate(552.35 265.20) scale(0.00969 -0.00681)" d="M139 0V305H428V0Z"/>
<path class="tb" transform="translate(557.25 265.20) scale(0.00716 -0.00681)" d="M1082 469Q1082 245 942.5 112.5Q803 -20 560 -20Q348 -20 220.5 75.5Q93 171 63 352L344 375Q366 285 422.0 244.0Q478 203 563 203Q668 203 730.5 270.0Q793 337 793 463Q793 574 734.0 640.5Q675 707 569 707Q452 707 378 616H104L153 1409H1000V1200H408L385 844Q487 934 640 934Q841 934 961.5 809.0Q1082 684 1082 469Z"/>
<path class="tb" transform="translate(566.20 265.20) scale(0.00852 -0.00681)" d="M71 0V195Q126 316 227.5 431.0Q329 546 483 671Q631 791 690.5 869.0Q750 947 750 1022Q750 1206 565 1206Q475 1206 427.5 1157.5Q380 1109 366 1012L83 1028Q107 1224 229.5 1327.0Q352 1430 563 1430Q791 1430 913.0 1326.0Q1035 1222 1035 1034Q1035 935 996.0 855.0Q957 775 896.0 707.5Q835 640 760.5 581.0Q686 522 616.0 466.0Q546 410 488.5 353.0Q431 296 403 231H1057V0Z"/>
<rect class="tbr" x="528.6" y="255.9" width="10.1" height="9.1"/>
<rect class="tbr" x="530.4" y="257.7" width="6.5" height="5.5"/>
</g>
</svg>
</body></html>
